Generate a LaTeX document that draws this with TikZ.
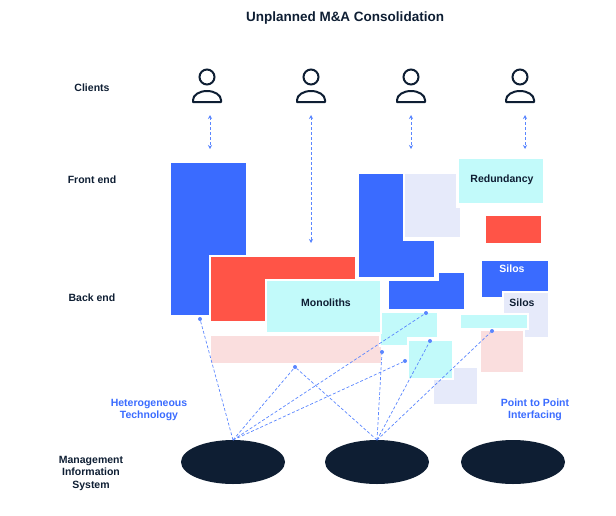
\documentclass[tikz,border=0pt]{standalone}
\usepackage{fontspec}
\setmainfont{Liberation Sans}
\usetikzlibrary{arrows.meta,shapes.geometric}
\definecolor{bl}{HTML}{3A6BFF}
\definecolor{rd}{HTML}{FF5447}
\definecolor{cy}{HTML}{C2FAFA}
\definecolor{pk}{HTML}{FADEDE}
\definecolor{lv}{HTML}{E6EAFA}
\definecolor{nv}{HTML}{0E1E33}
\definecolor{ln}{HTML}{5A86FF}
\begin{document}
\begin{tikzpicture}[x=1pt,y=-1pt,
  blk/.style={draw=white,line width=1.2pt},
  lbl/.style={font=\bfseries\fontsize{10.5}{12.5}\selectfont,text=nv,align=center},
  blbl/.style={font=\bfseries\fontsize{10.5}{12.5}\selectfont,text=bl,align=center},
  dl/.style={ln,densely dashed,line width=0.7pt},
  dot/.style={circle,fill=ln,inner sep=0pt,minimum size=4pt},
  mis/.style={ellipse,fill=nv,minimum width=104pt,minimum height=44pt,inner sep=0pt},
  arr/.style={ln,densely dashed,line width=0.7pt,{Stealth[length=4pt,width=4pt]}-{Stealth[length=4pt,width=4pt]}}]
\useasboundingbox (0,0) rectangle (616,515);
\node[lbl,font=\bfseries\fontsize{13.5}{15}\selectfont] (title) at (345,18) {Unplanned M\&A Consolidation};
\node[lbl] (cl) at (92,88) {Clients};
\node[lbl] (fe) at (92,180) {Front end};
\node[lbl] (be) at (92,298) {Back end};
\node[lbl] (mis) at (91,473) {Management\\Information\\System};
\node[blbl] (ht) at (149,410) {Heterogeneous\\Technology};
\node[blbl] (pp) at (535,410) {Point to Point\\Interfacing};
% persons
\foreach \i/\x in {1/207,2/311,3/411,4/520}{
  \draw[nv,line width=2pt] (\x,77) circle (7.5);
  \draw[nv,line width=2pt,line join=round] (\x-14,102) -- (\x-14,100) arc[start angle=180,end angle=360,x radius=14,y radius=9] -- (\x+14,102) -- cycle;
}
% blocks
\fill[blk,fill=bl] (170,162) rectangle (247,316);
\fill[blk,fill=rd] (210,256) rectangle (356,322);
\fill[blk,fill=pk] (210,335) rectangle (382,364);
\fill[blk,fill=cy] (380,312) -- (438,312) -- (438,338) -- (408,338) -- (408,346) -- (380,346) -- cycle;
\fill[blk,fill=cy] (266,280) rectangle (381,333);
\node[lbl] (mono) at (326,303) {Monoliths};
\fill[blk,fill=lv] (404,173) -- (457,173) -- (457,207) -- (461,207) -- (461,238) -- (404,238) -- cycle;
\fill[blk,fill=bl] (358,173) -- (404,173) -- (404,240) -- (435,240) -- (435,278) -- (358,278) -- cycle;
\fill[blk,fill=bl] (388,280) -- (438,280) -- (438,272) -- (465,272) -- (465,310) -- (388,310) -- cycle;
\fill[blk,fill=lv] (433,367) rectangle (478,405);
\fill[blk,fill=cy] (408,340) rectangle (453,379);
\fill[blk,fill=cy] (458,158) rectangle (544,204);
\node[lbl] (red) at (502,180) {Redundancy};
\fill[blk,fill=rd] (485,215) rectangle (542,244);
\fill[blk,fill=bl] (481,260) rectangle (549,298);
\node[lbl,text=white] (s1) at (512,269) {Silos};
\fill[blk,fill=lv] (503,292) rectangle (549,338);
\node[lbl] (s2) at (522,303) {Silos};
\fill[blk,fill=pk] (480,330) rectangle (524,373);
\fill[blk,fill=cy] (460,314) rectangle (528,329);
% arrows
\coordinate (a1) at (210,115); \coordinate (b1) at (210,149);
\coordinate (a2) at (311,115); \coordinate (b2) at (311,243);
\coordinate (a3) at (411,115); \coordinate (b3) at (411,149);
\coordinate (a4) at (525,115); \coordinate (b4) at (525,149);
\draw[arr] (a1) -- (b1);
\draw[arr] (a3) -- (b3);
\draw[arr] (a4) -- (b4);
\draw[arr] (a2) -- (b2);
% dots
\node[dot] (d1) at (200,319) {};
\node[dot] (d2) at (295,367) {};
\node[dot] (d3) at (426,313) {};
\node[dot] (d4) at (382,352) {};
\node[dot] (d5) at (405,361) {};
\node[dot] (d6) at (430,341) {};
\node[dot] (d7) at (492,331) {};
% MIS
\node[mis] (m1) at (233,462) {};
\node[mis] (m2) at (377,462) {};
\node[mis] (m3) at (513,462) {};
\coordinate (t1) at (233,440);
\coordinate (t2) at (377,440);
\foreach \d in {d1,d2,d3,d5} \draw[dl] (t1) -- (\d);
\foreach \d in {d2,d4,d6,d7} \draw[dl] (t2) -- (\d);
\end{tikzpicture}
\end{document}
